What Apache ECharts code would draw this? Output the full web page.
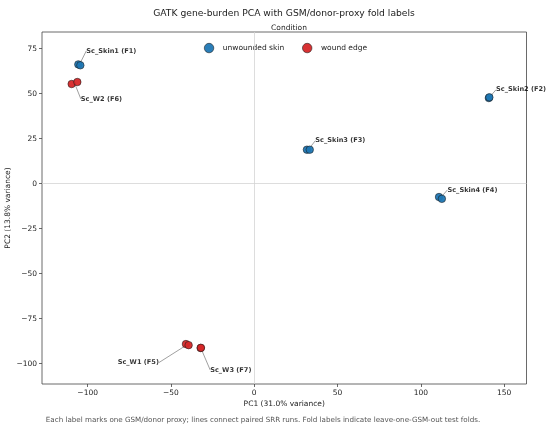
<!DOCTYPE html>
<html>
<head>
<meta charset="utf-8">
<script src="https://cdn.jsdelivr.net/npm/echarts@6/dist/echarts.min.js"></script>
<style>
  html, body { margin: 0; padding: 0; background: #fff; }
  #chart { width: 550px; height: 428px; }
</style>
</head>
<body>
<div id="chart"></div>
<script>
// PCA scores, two SRR runs per GSM
const skinPoints = [
    [-105.6, 66.3], [-104.4, 65.8],   // Sc_Skin1
    [140.8, 47.6], [141.1, 48.0],     // Sc_Skin2
    [31.6, 18.9], [33.3, 18.9],       // Sc_Skin3
    [110.9, -7.4], [112.6, -8.4]      // Sc_Skin4
];
const woundPoints = [
    [-109.6, 55.4], [-106.2, 56.5],   // Sc_W2
    [-41.0, -89.1], [-39.4, -89.7],   // Sc_W1
    [-32.2, -91.3], [-32.0, -91.2]    // Sc_W3
];
// one label per GSM, placed at the mean of its runs
const gsmLabels = ['Sc_Skin1 (F1)', 'Sc_Skin2 (F2)', 'Sc_Skin3 (F3)', 'Sc_Skin4 (F4)',
                   'Sc_W2 (F6)', 'Sc_W1 (F5)', 'Sc_W3 (F7)'];
const gsmRuns = [
    [skinPoints[0], skinPoints[1]], [skinPoints[2], skinPoints[3]],
    [skinPoints[4], skinPoints[5]], [skinPoints[6], skinPoints[7]],
    [woundPoints[0], woundPoints[1]], [woundPoints[2], woundPoints[3]],
    [woundPoints[4], woundPoints[5]]
];
const conditionNames = ['unwounded skin', 'wound edge'];

// label offsets in pixels from the GSM centre
const labelShift = {
    'Sc_Skin1 (F1)': [32, -14],
    'Sc_Skin2 (F2)': [32, -8],
    'Sc_Skin3 (F3)': [32, -9],
    'Sc_Skin4 (F4)': [32, -8],
    'Sc_W2 (F6)': [27, 16],
    'Sc_W1 (F5)': [-49, 18],
    'Sc_W3 (F7)': [30, 22]
};

var chartDom = document.getElementById('chart');
var myChart = echarts.init(chartDom, null, { renderer: 'canvas' });

const font = 'DejaVu Sans';
const labelData = gsmLabels.map(function (name, i) {
    let runs = gsmRuns[i];
    return {
        name: name,
        value: [(runs[0][0] + runs[1][0]) / 2, (runs[0][1] + runs[1][1]) / 2]
    };
});

const pointStyle = function (color) {
    return {
        color: color,
        borderColor: '#1a1a1a',
        borderWidth: 0.6,
        opacity: 0.95
    };
};

// matplotlib style minus sign
const tickFmt = function (v) {
    return String(v).replace('-', '\u2212');
};

let option = {
    animation: false,
    textStyle: { fontFamily: font },
    title: [
        {
            text: 'GATK gene-burden PCA with GSM/donor-proxy fold labels',
            left: 279, top: 4, textAlign: 'center',
            textStyle: { fontSize: 9.2, fontWeight: 'normal', color: '#222', fontFamily: font }
        },
        {
            text: 'Condition',
            left: 284, top: 19, textAlign: 'center',
            textStyle: { fontSize: 7.5, fontWeight: 'normal', color: '#222', fontFamily: font }
        },
        {
            text: 'Each label marks one GSM/donor proxy; lines connect paired SRR runs. Fold labels indicate leave-one-GSM-out test folds.',
            left: 258, top: 412, textAlign: 'center',
            textStyle: { fontSize: 7.15, fontWeight: 'normal', color: '#555', fontFamily: font }
        }
    ],
    legend: {
        data: conditionNames,
        left: 199, top: 38,
        icon: 'circle',
        itemWidth: 9.5, itemHeight: 9.5,
        itemGap: 18,
        itemStyle: { borderColor: '#1a1a1a', borderWidth: 0.6 },
        textStyle: { fontSize: 7.5, color: '#222', fontFamily: font, padding: [0, 0, 0, 4] }
    },
    grid: {
        left: 42, right: 23.5, top: 32, bottom: 44,
        outerBoundsMode: 'none',
        containLabel: false,
        show: true,
        borderColor: '#444',
        borderWidth: 0.8,
        backgroundColor: 'transparent'
    },
    xAxis: {
        type: 'value',
        min: -127.4, max: 163.4,
        minInterval: 50, maxInterval: 50,
        name: 'PC1 (31.0% variance)',
        nameLocation: 'middle', nameGap: 16,
        nameMoveOverlap: false,
        nameTextStyle: { fontSize: 7.5, color: '#222' },
        axisLine: { show: false, onZero: false },
        axisTick: { show: true, inside: false, length: 3, lineStyle: { color: '#444', width: 0.8 } },
        axisLabel: { fontSize: 7.5, color: '#222', margin: 5, showMinLabel: false, showMaxLabel: false, formatter: tickFmt },
        splitLine: { show: false }
    },
    yAxis: {
        type: 'value',
        min: -111.3, max: 84.3,
        minInterval: 25, maxInterval: 25,
        name: 'PC2 (13.8% variance)',
        nameLocation: 'middle', nameGap: 30,
        nameMoveOverlap: false,
        nameTextStyle: { fontSize: 7.5, color: '#222' },
        axisLine: { show: false, onZero: false },
        axisTick: { show: true, inside: false, length: 3, lineStyle: { color: '#444', width: 0.8 } },
        axisLabel: { fontSize: 7.5, color: '#222', margin: 5, showMinLabel: false, showMaxLabel: false, formatter: tickFmt },
        splitLine: { show: false }
    },
    series: [
        {
            name: 'zero',
            type: 'scatter',
            data: [],
            silent: true,
            markLine: {
                silent: true,
                symbol: 'none',
                label: { show: false },
                lineStyle: { color: '#d4d4d4', width: 0.8, type: 'solid' },
                data: [{ xAxis: 0 }, { yAxis: 0 }]
            }
        },
        {
            name: conditionNames[0],
            type: 'scatter',
            symbolSize: 7.5,
            itemStyle: pointStyle('#1f77b4'),
            data: skinPoints
        },
        {
            name: conditionNames[1],
            type: 'scatter',
            symbolSize: 7.5,
            itemStyle: pointStyle('#d62728'),
            data: woundPoints
        },
        {
            name: 'labels',
            type: 'scatter',
            symbolSize: 2,
            itemStyle: { color: 'rgba(0,0,0,0)' },
            silent: true,
            z: 1,
            data: labelData,
            label: {
                show: true,
                position: 'inside',
                formatter: '{b}',
                fontSize: 6.6,
                fontWeight: 'bold',
                color: '#000',
                fontFamily: font
            },
            labelLine: {
                show: true,
                lineStyle: { color: '#777', width: 0.7 }
            },
            labelLayout: function (params) {
                let s = labelShift[labelData[params.dataIndex].name];
                return { dx: s[0], dy: s[1] };
            }
        }
    ]
};

option && myChart.setOption(option);

window.onresize = function () {
    myChart.resize();
};
</script>
</body>
</html>
